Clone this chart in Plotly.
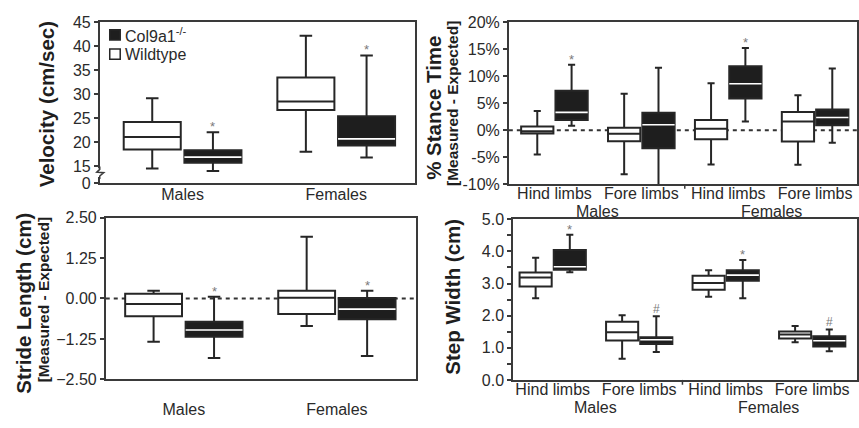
import plotly.graph_objects as go

W, H = 859, 428

# ---------------- data ----------------
sex_cats = ["Males", "Females"]
limb_keys = ["M-Hind", "M-Fore", "F-Hind", "F-Fore"]
limb_ticktext = ["Hind limbs", "Fore limbs", "Hind limbs", "Fore limbs"]
limb_groups = ["Males", "Females"]
series_names = ["Col9a1<sup>-/-</sup>", "Wildtype"]

# each entry: [lower whisker, Q1, median, Q3, upper whisker]
vel_wt = [[14.5, 18.5, 21.1, 24.2, 29.2], [18.0, 26.7, 28.5, 33.5, 42.2]]
vel_col = [[14.0, 15.7, 16.9, 18.3, 22.1], [16.8, 19.3, 20.7, 25.4, 38.1]]
vel_sig = ["*", "*"]
vel_tickvals = [11.4, 15, 20, 25, 30, 35, 40, 45]
vel_ticktext = ["0", "15", "20", "25", "30", "35", "40", "45"]

st_wt = [[-4.5, -0.62, -0.2, 0.69, 3.55], [-8.2, -2.05, -0.68, 0.45, 6.75],
         [-6.4, -1.7, 0.27, 1.87, 8.7], [-6.44, -2.1, 1.6, 3.37, 6.5]]
st_col = [[0.8, 1.9, 3.3, 7.3, 12.16], [-10.9, -3.35, 1.0, 3.25, 11.57],
          [1.6, 5.86, 8.6, 11.85, 15.25], [-2.34, 0.93, 2.35, 3.84, 11.44]]
st_sig = ["*", "", "*", ""]
st_tickvals = [-10, -5, 0, 5, 10, 15, 20]
st_ticktext = ["-10%", "-5%", "0%", "5%", "10%", "15%", "20%"]

sl_wt = [[-1.34, -0.55, -0.17, 0.144, 0.24], [-0.85, -0.48, 0.025, 0.24, 1.906]]
sl_col = [[-1.84, -1.18, -0.975, -0.72, 0.055], [-1.78, -0.64, -0.33, 0.015, 0.24]]
sl_sig = ["*", "*"]
sl_tickvals = [-2.5, -1.25, 0, 1.25, 2.5]

sw_wt = [[2.54, 2.91, 3.19, 3.34, 3.80], [0.66, 1.23, 1.48, 1.81, 2.01],
         [2.59, 2.81, 3.02, 3.24, 3.41], [1.17, 1.29, 1.41, 1.51, 1.68]]
sw_col = [[3.35, 3.43, 3.52, 4.04, 4.52], [0.87, 1.12, 1.25, 1.33, 1.98],
          [2.54, 3.09, 3.26, 3.41, 3.73], [0.89, 1.04, 1.22, 1.36, 1.57]]
sw_sig = ["*", "#", "*", "#"]

# ---------------- style ----------------
DARK = "#262626"
BLACKFILL = "#1e1e1e"
AXC = "#3a3a3a"
TXT = "#2a2a2a"
FONT = "Arial, Liberation Sans, sans-serif"
BOXGAP = 0.21

# panel geometry in pixels
P = {
    1: dict(x0=100, x1=415.7, y0=15, y1=182.7, rng=[-0.539, 1.511]),
    2: dict(x0=510, x1=859, y0=15, y1=183.3, rng=[-0.525, 3.482]),
    3: dict(x0=106, x1=416.7, y0=218.3, y1=386.7, rng=[-0.51, 1.515]),
    4: dict(x0=514.3, x1=859, y0=220, y1=387.3, rng=[-0.458, 3.518]),
}
XLABEL_STANDOFF = {1: -4, 2: -6, 3: 15, 4: -6}


def px_x(v):
    return v / W


def px_y(v):
    return 1 - v / H


fig = go.Figure()


def col(rows, k):
    return [r[k] for r in rows]


def add_panel(n, x, wt, cl, sig):
    xa = "x" if n == 1 else f"x{n}"
    ya = "y" if n == 1 else f"y{n}"
    ag = f"p{n}"
    common = dict(xaxis=xa, yaxis=ya, boxpoints=False, whiskerwidth=0.22,
                  alignmentgroup=ag, hoverinfo="skip", showlegend=False)
    fig.add_trace(go.Box(x=x, lowerfence=col(wt, 0), q1=col(wt, 1), median=col(wt, 2),
                         q3=col(wt, 3), upperfence=col(wt, 4), name=series_names[1],
                         fillcolor="white", line=dict(color=DARK, width=2),
                         offsetgroup="wt", **common))
    fig.add_trace(go.Box(x=x, lowerfence=col(cl, 0), q1=col(cl, 1), median=col(cl, 2),
                         q3=col(cl, 3), upperfence=col(cl, 4), name=series_names[0],
                         fillcolor=BLACKFILL, line=dict(color=DARK, width=2),
                         offsetgroup="col", **common))
    med = col(cl, 2)
    c2 = dict(common)
    c2["whiskerwidth"] = 0
    fig.add_trace(go.Box(x=x, lowerfence=med, q1=med, median=med, q3=med, upperfence=med,
                         name="median", fillcolor="white", line=dict(color="white", width=1.6),
                         offsetgroup="col", **c2))
    # significance marks over the Col9a1 box of each category
    g = P[n]
    ppu = (g["x1"] - g["x0"]) / (g["rng"][1] - g["rng"][0])
    shift = ppu * (1 - BOXGAP) / 4
    for i, s in enumerate(sig):
        if s:
            fig.add_annotation(x=i, y=cl[i][4], xref=xa, yref=ya, text=s,
                               showarrow=False, yanchor="bottom", xshift=shift,
                               yshift=-4 if s == "*" else -2,
                               font=dict(size=13 if s == "*" else 12, color="#7a7a7a"))


add_panel(1, sex_cats, vel_wt, vel_col, vel_sig)
add_panel(2, limb_keys, st_wt, st_col, st_sig)
add_panel(3, sex_cats, sl_wt, sl_col, sl_sig)
add_panel(4, limb_keys, sw_wt, sw_col, sw_sig)

axis_common = dict(showline=True, mirror=True, linecolor=AXC, linewidth=1.6,
                   showgrid=False, zeroline=False,
                   tickfont=dict(size=16, color=TXT, family=FONT))

layout = dict(
    width=W, height=H, margin=dict(l=0, r=0, t=0, b=0),
    paper_bgcolor="white", plot_bgcolor="white",
    font=dict(family=FONT, color=TXT),
    boxmode="group", boxgap=BOXGAP, boxgroupgap=0.06,
    showlegend=False,
)
for n, g in P.items():
    xk = "xaxis" if n == 1 else f"xaxis{n}"
    yk = "yaxis" if n == 1 else f"yaxis{n}"
    ya = "y" if n == 1 else f"y{n}"
    xa = "x" if n == 1 else f"x{n}"
    xd = dict(axis_common, domain=[px_x(g["x0"]), min(1, px_x(g["x1"]))], anchor=ya,
              range=g["rng"], ticks="", type="category",
              ticklabelstandoff=XLABEL_STANDOFF[n])
    if n in (2, 4):
        xd.update(tickmode="array", tickvals=limb_keys, ticktext=limb_ticktext)
    yd = dict(axis_common, domain=[px_y(g["y1"]), px_y(g["y0"])], anchor=xa,
              ticks="outside", ticklen=4, tickwidth=1.5, tickcolor=AXC)
    layout[xk] = xd
    layout[yk] = yd

layout["yaxis"].update(range=[11.4, 45], tickvals=vel_tickvals, ticktext=vel_ticktext)
layout["yaxis2"].update(range=[-10, 20], tickvals=st_tickvals, ticktext=st_ticktext)
layout["yaxis3"].update(range=[-2.5, 2.5], tickvals=sl_tickvals, tickformat=".2f")
layout["yaxis4"].update(range=[0, 5], dtick=1, tickformat=".1f",
                        minor=dict(dtick=0.5, ticks="outside", ticklen=4, tickcolor=AXC))
fig.update_layout(**layout)

# group labels (Males / Females) and divider for the limb panels
for n in (2, 4):
    for j, lab in enumerate(limb_groups):
        fig.add_annotation(x=2 * j + 0.5, y=0, xref=f"x{n}", yref=f"y{n} domain",
                           text=lab, showarrow=False, yanchor="top", yshift=-17,
                           font=dict(size=16, color=TXT))
    fig.add_shape(type="line", xref=f"x{n}", yref=f"y{n} domain", x0=1.5, x1=1.5,
                  y0=0, y1=-0.03, line=dict(color=AXC, width=1.5))

# dashed zero reference lines
for n in (2, 3):
    fig.add_shape(type="line", xref=f"x{n} domain", yref=f"y{n}", x0=0, x1=1, y0=0, y1=0,
                  line=dict(color="#333333", width=2, dash="4px,4px"), layer="below")

# legend (inside the velocity panel)
leg_fill = [BLACKFILL, "white"]
for k, name in enumerate(series_names):
    yc = 28 + 20 * k
    fig.add_shape(type="rect", xref="paper", yref="paper",
                  x0=px_x(110), x1=px_x(120.5), y0=px_y(yc - 5.3), y1=px_y(yc + 5.3),
                  fillcolor=leg_fill[k], line=dict(color=DARK, width=1.5), layer="above")
    fig.add_annotation(text=name, x=px_x(123.5), y=px_y(yc), xref="paper", yref="paper",
                       xanchor="left", yanchor="middle", showarrow=False,
                       font=dict(size=16, color=TXT))

# axis break mark on velocity axis
fig.add_shape(type="line", xref="paper", yref="paper", x0=px_x(100), x1=px_x(100),
              y0=px_y(167), y1=px_y(176), line=dict(color="white", width=4), layer="above")
fig.add_shape(type="path", xref="paper", yref="paper",
              path=f"M {px_x(100)},{px_y(165)} L {px_x(100)},{px_y(168)} L {px_x(97)},{px_y(171)} "
                   f"L {px_x(104)},{px_y(171.5)} L {px_x(100)},{px_y(175)} L {px_x(100)},{px_y(178)}",
              line=dict(color=AXC, width=1.5), layer="above")


# y-axis titles
def title(text, x, y, size):
    fig.add_annotation(text=f"<b>{text}</b>", x=px_x(x), y=px_y(y), xref="paper", yref="paper",
                       textangle=-90, showarrow=False, xanchor="center", yanchor="middle",
                       font=dict(size=size, color="#1e1e1e", family=FONT))


title("Velocity (cm/sec)", 46.7, 100.7, 20.5)
title("% Stance Time", 435, 104, 20.5)
title("[Measured - Expected]", 453, 99, 15.5)
title("Stride Length (cm)", 24, 307, 20.5)
title("[Measured - Expected]", 44.5, 304, 15.5)
title("Step Width (cm)", 454, 300.7, 20.5)

fig.write_html("out.html", config={"displayModeBar": False},
               post_script="document.body.style.margin='0px';")
